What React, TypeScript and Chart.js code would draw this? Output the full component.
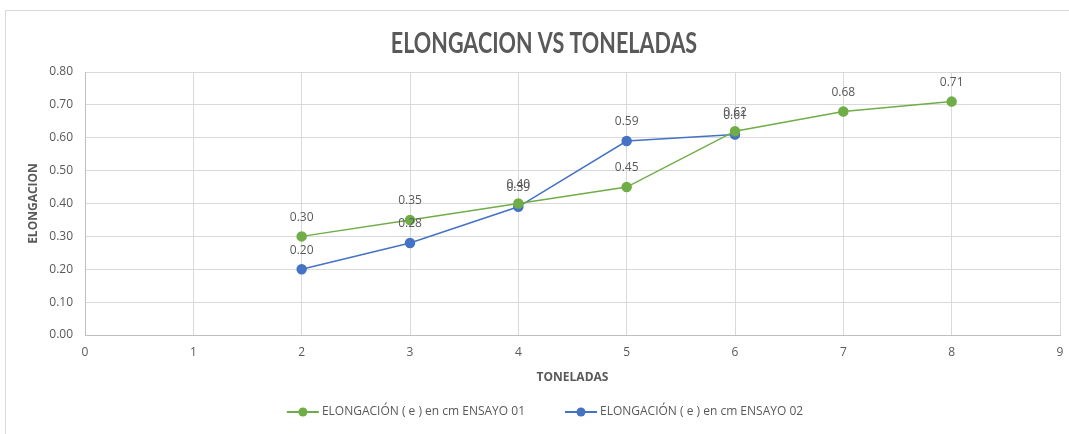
import React, { useEffect, useRef } from "react";
import { Chart, registerables } from "chart.js";

Chart.register(...registerables);

const xValues1 = [2, 3, 4, 5, 6, 7, 8];
const yValues1 = [0.3, 0.35, 0.4, 0.45, 0.62, 0.68, 0.71];
const xValues2 = [2, 3, 4, 5, 6];
const yValues2 = [0.2, 0.28, 0.39, 0.59, 0.61];
const seriesNames = [
  "ELONGACIÓN ( e ) en cm ENSAYO 01",
  "ELONGACIÓN ( e ) en cm ENSAYO 02",
];
const seriesColors = ["#70AD47", "#4472C4"];
const chartTitle = "ELONGACION VS TONELADAS";
const xTitle = "TONELADAS";
const yTitle = "ELONGACION";

const FONT = "'Open Sans', 'Noto Sans', sans-serif";
const TEXT = "#595959";

const bgPlugin = {
  id: "bg",
  beforeDraw(chart: any) {
    const { ctx, width, height } = chart;
    ctx.save();
    ctx.fillStyle = "#ffffff";
    ctx.fillRect(0, 0, width, height);
    ctx.strokeStyle = "#d9d9d9";
    ctx.lineWidth = 1;
    ctx.strokeRect(5.5, 10.5, width + 20, height + 20);
    ctx.restore();
  },
};

const titlePlugin = {
  id: "customTitle",
  afterDraw(chart: any) {
    const { ctx } = chart;
    ctx.save();
    ctx.font = `bold 28px Lato, sans-serif`;
    ctx.fillStyle = TEXT;
    ctx.textAlign = "center";
    ctx.textBaseline = "alphabetic";
    ctx.translate(544, 53);
    ctx.scale(0.77, 1);
    ctx.fillText(chartTitle, 0, 0);
    ctx.restore();
  },
};

const legendPlugin = {
  id: "customLegend",
  afterDraw(chart: any) {
    const { ctx } = chart;
    ctx.save();
    ctx.font = `12px ${FONT}`;
    ctx.textBaseline = "middle";
    ctx.textAlign = "left";
    const iconW = 32;
    const gapText = 3;
    const gapItems = 40;
    const widths = chart.data.datasets.map((ds: any) => ctx.measureText(ds.label).width);
    let total = 0;
    widths.forEach((w: number, i: number) => {
      total += iconW + gapText + w + (i < widths.length - 1 ? gapItems : 0);
    });
    let x = 545 - total / 2;
    const y = 412;
    chart.data.datasets.forEach((ds: any, i: number) => {
      ctx.strokeStyle = ds.borderColor;
      ctx.lineWidth = 2;
      ctx.beginPath();
      ctx.moveTo(x, y);
      ctx.lineTo(x + iconW, y);
      ctx.stroke();
      ctx.fillStyle = ds.borderColor;
      ctx.beginPath();
      ctx.arc(x + iconW / 2, y, 4.5, 0, Math.PI * 2);
      ctx.fill();
      ctx.fillStyle = TEXT;
      ctx.fillText(ds.label, x + iconW + gapText, y);
      x += iconW + gapText + widths[i] + gapItems;
    });
    ctx.restore();
  },
};

const labelPlugin = {
  id: "dataLabels",
  afterDatasetsDraw(chart: any) {
    const { ctx } = chart;
    ctx.save();
    ctx.font = `12px ${FONT}`;
    ctx.fillStyle = TEXT;
    ctx.textAlign = "center";
    ctx.textBaseline = "middle";
    chart.data.datasets.forEach((ds: any, i: number) => {
      const meta = chart.getDatasetMeta(i);
      meta.data.forEach((pt: any, j: number) => {
        const v = ds.data[j].y;
        ctx.fillText(v.toFixed(2), pt.x, pt.y - 19);
      });
    });
    ctx.restore();
  },
};

export default function App() {
  const ref = useRef<HTMLCanvasElement>(null);
  useEffect(() => {
    const chart = new Chart(ref.current!, {
      type: "line",
      data: {
        datasets: [
          {
            label: seriesNames[0],
            data: xValues1.map((x, i) => ({ x, y: yValues1[i] })),
            borderColor: seriesColors[0],
            backgroundColor: seriesColors[0],
            pointBackgroundColor: seriesColors[0],
            pointBorderColor: seriesColors[0],
            borderWidth: 1.5,
            pointRadius: 4.5,
            tension: 0,
          },
          {
            label: seriesNames[1],
            data: xValues2.map((x, i) => ({ x, y: yValues2[i] })),
            borderColor: seriesColors[1],
            backgroundColor: seriesColors[1],
            pointBackgroundColor: seriesColors[1],
            pointBorderColor: seriesColors[1],
            borderWidth: 1.5,
            pointRadius: 4.5,
            tension: 0,
          },
        ],
      },
      options: {
        animation: false,
        responsive: false,
        layout: { padding: { left: 10, right: 0, top: 72, bottom: 39 } },
        scales: {
          x: {
            type: "linear",
            min: 0,
            max: 9,
            ticks: {
              stepSize: 1,
              color: TEXT,
              padding: 10,
              font: { family: FONT, size: 12 },
            },
            grid: { color: "#d9d9d9", drawTicks: false },
            border: { color: "#bfbfbf" },
            title: {
              display: true,
              text: xTitle,
              color: TEXT,
              font: { family: FONT, size: 12, weight: "bold" },
              padding: { top: 0, bottom: 10 },
            },
            afterFit(scale: any) {
              scale.height = 60;
              scale.paddingRight = 9;
            },
          },
          y: {
            min: 0,
            max: 0.8,
            ticks: {
              stepSize: 0.1,
              color: TEXT,
              padding: 12,
              font: { family: FONT, size: 12 },
              callback: (v: any) => Number(v).toFixed(2),
            },
            grid: { color: "#d9d9d9", drawTicks: false },
            border: { color: "#bfbfbf" },
            title: {
              display: true,
              text: yTitle,
              color: TEXT,
              font: { family: FONT, size: 12, weight: "bold" },
              padding: { top: 16, bottom: 0 },
            },
            afterFit(scale: any) {
              scale.width = 75;
            },
          },
        },
        plugins: {
          title: { display: false },
          legend: { display: false },
          tooltip: { enabled: false },
        },
      },
      plugins: [bgPlugin, labelPlugin, titlePlugin, legendPlugin],
    } as any);
    return () => chart.destroy();
  }, []);
  return (
    <div style={{ position: "absolute", left: 0, top: 0, width: 1069, height: 434 }}>
      <canvas ref={ref} width={1069} height={434} style={{ width: 1069, height: 434 }} />
    </div>
  );
}
